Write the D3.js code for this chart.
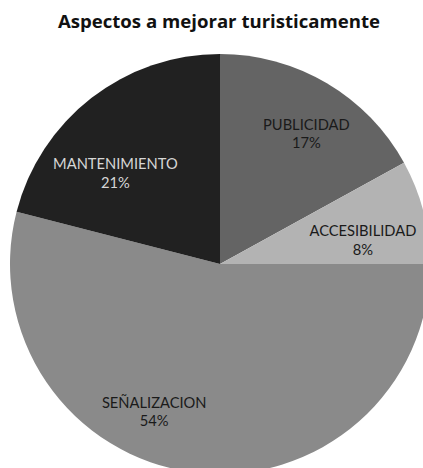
<!DOCTYPE html>
<html>
<head>
<meta charset="utf-8">
<script src="https://cdn.jsdelivr.net/npm/d3@7/dist/d3.min.js"></script>
<style>
  html, body { margin: 0; padding: 0; background: #fff; overflow: hidden; }
  svg { display: block; }
</style>
</head>
<body>
<svg id="chart" width="423" height="468"></svg>
<script>
// Survey: aspects to improve for tourism (share of responses, %)
const categories = ["PUBLICIDAD", "ACCESIBILIDAD", "SEÑALIZACION", "MANTENIMIENTO"];
const values = [17, 8, 54, 21];
const sliceColors = ["#646464", "#b3b3b3", "#8a8a8a", "#212121"];
const labelColors = ["#1a1a1a", "#1a1a1a", "#1a1a1a", "#d6d6d6"];

// Label anchor (angle in degrees clockwise from 12 o'clock, radius fraction)
const labelLayout = [
  { angle: 33.5, r: 0.745 },
  { angle: 80.5, r: 0.69 },
  { angle: 204, r: 0.77 },
  { angle: 311, r: 0.66 }
];

const width = 423, height = 468;
const cx = 220, cy = 264, radius = 210;
const svg = d3.select("#chart");

svg.append("text")
  .attr("x", 219)
  .attr("y", 28)
  .attr("text-anchor", "middle")
  .attr("font-family", "'Open Sans', sans-serif")
  .attr("font-weight", "bold")
  .attr("font-size", 18.6)
  .attr("fill", "#111")
  .text("Aspectos a mejorar turisticamente");

const data = categories.map((c, i) => ({ name: c, value: values[i], i }));

const pie = d3.pie().sort(null).value(d => d.value);
const arc = d3.arc().innerRadius(0).outerRadius(radius);
const arcs = pie(data);

const g = svg.append("g").attr("transform", `translate(${cx},${cy})`);

g.selectAll("path.slice")
  .data(arcs)
  .join("path")
  .attr("class", "slice")
  .attr("d", arc)
  .attr("fill", d => sliceColors[d.data.i]);

const total = d3.sum(values);
const labels = g.selectAll("g.label")
  .data(arcs)
  .join("g")
  .attr("class", "label")
  .attr("transform", d => {
    const L = labelLayout[d.data.i];
    const a = L.angle * Math.PI / 180;
    return `translate(${Math.sin(a) * L.r * radius},${-Math.cos(a) * L.r * radius})`;
  });

labels.each(function(d) {
  const t = d3.select(this).append("text")
    .attr("text-anchor", "middle")
    .attr("font-family", "Lato, 'Open Sans', sans-serif")
    .attr("font-size", 14.7)
    .attr("fill", labelColors[d.data.i]);
  t.append("tspan").attr("x", 0).attr("y", -4).text(d.data.name);
  t.append("tspan").attr("x", 0).attr("y", 14.5)
    .text(Math.round(d.data.value / total * 100) + "%");
});
</script>
</body>
</html>
